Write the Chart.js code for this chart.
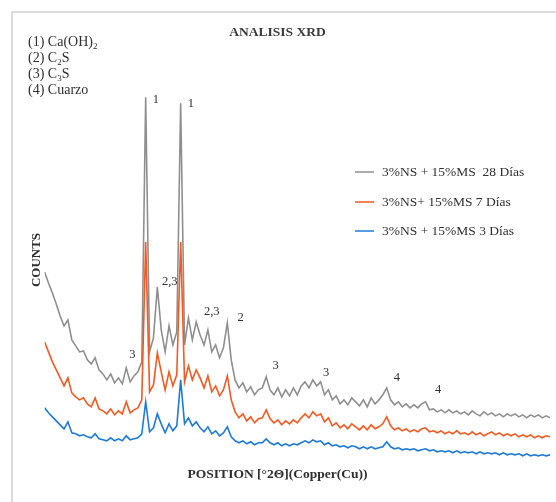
<html><head><meta charset="UTF-8"><title>Analisis XRD</title>
<style>
body { margin: 0; background: #fff; }
#wrap { position: relative; width: 556px; height: 502px; overflow: hidden; }
#frame { position: absolute; left: 11px; top: 11px; width: 700px; height: 700px; border-left: 2px solid #dcdcdc; border-top: 2px solid #dcdcdc; pointer-events: none; }
#key { position: absolute; left: 28px; top: 34px; font-family: "Liberation Serif", "Times New Roman", serif; font-size: 14px; line-height: 16px; color: #2f2f2f; }
#key sub { font-size: 9px; line-height: 0; vertical-align: -3px; }
</style>
<script src="https://cdn.jsdelivr.net/npm/chart.js"></script>
</head>
<body>
<div id="wrap">
  <canvas id="xrd" width="556" height="502"></canvas>
  <div id="frame"></div>
  <div id="key">(1) Ca(OH)<sub>2</sub><br>(2) C<sub>2</sub>S<br>(3) C<sub>3</sub>S<br>(4) Cuarzo</div>
</div>
<script>
// 2theta positions
const positions = [5,5.5,6,6.5,7,7.5,8,8.5,9,9.5,10,10.5,11,11.5,12,12.5,13,13.5,14,14.5,15,15.5,16,16.5,17,17.5,18,18.5,19,19.5,20,20.5,21,21.5,22,22.5,23,23.5,24,24.5,25,25.5,26,26.5,27,27.5,28,28.5,29,29.5,30,30.5,31,31.5,32,32.5,33,33.5,34,34.5,35,35.5,36,36.5,37,37.5,38,38.5,39,39.5,40,40.5,41,41.5,42,42.5,43,43.5,44,44.5,45,45.5,46,46.5,47,47.5,48,48.5,49,49.5,50,50.5,51,51.5,52,52.5,53,53.5,54,54.5,55,55.5,56,56.5,57,57.5,58,58.5,59,59.5,60,60.5,61,61.5,62,62.5,63,63.5,64,64.5,65,65.5,66,66.5,67,67.5,68,68.5,69,69.5,70];

const counts28 = [188,177,167,156,144,134,140,120,114,108,
  109,100,96,102,90,86,80,86,77,82,
  76,92,78,84,88,98,363,108,122,173,
  130,108,134,115,128,357,115,142,120,138,
  125,115,130,108,115,102,112,137,100,80,
  72,77,68,73,65,70,72,83,70,65,
  72,63,70,64,72,65,74,78,72,80,
  74,78,65,70,60,64,56,60,55,62,
  58,54,60,53,62,56,60,65,72,60,
  55,58,53,56,52,55,52,56,58,50,
  51,48,50,47,50,47,49,46,48,45,
  49,46,44,48,45,47,44,46,43,46,
  44,46,43,45,42,45,43,45,42,44,
  42];

const counts7 = [118,108,98,90,82,74,82,67,63,60,
  62,56,53,62,51,49,46,51,45,49,
  46,58,47,50,52,60,218,68,75,107,
  88,70,88,74,85,218,78,94,80,90,
  82,72,84,68,74,64,70,84,60,48,
  42,46,39,43,37,41,42,50,41,37,
  40,35,39,36,40,37,42,46,42,48,
  44,46,38,42,34,37,32,35,31,36,
  33,30,34,30,35,31,33,36,43,34,
  30,32,29,31,28,30,28,31,32,28,
  29,27,29,26,28,26,29,26,27,25,
  28,25,27,24,26,28,25,27,24,26,
  24,26,23,25,23,25,22,24,22,24,
  23];

const counts3 = [52,47,43,39,35,31,38,27,26,24,
  25,23,22,26,21,20,19,22,19,21,
  19,24,20,21,22,26,58,28,32,46,
  36,27,36,29,34,80,36,42,34,38,
  32,28,33,26,29,24,27,33,23,19,
  17,19,16,18,15,17,17,21,17,15,
  17,14,16,14,16,15,17,19,17,20,
  18,19,15,17,14,15,13,14,12,14,
  13,11,13,11,13,11,12,13,18,13,
  11,12,10,11,10,11,9,10,11,9,
  10,8,9,8,9,7,9,7,8,7,
  8,6,8,6,7,6,7,5,7,5,
  6,5,6,4,6,4,5,4,5,4,
  5];

const seriesNames = ['3%NS + 15%MS  28 Días', '3%NS+ 15%MS 7 Días', '3%NS + 15%MS 3 Días'];

// peak labels (text, 2theta, counts)
const peakText = ['1', '1', '2,3', '2,3', '2', '3', '3', '3', '4', '4'];
const peakPos = [19.3, 23.8, 21.1, 26.5, 30.2, 16.3, 34.7, 41.2, 50.3, 55.6];
const peakCounts = [360, 356, 178, 148, 142, 105, 94, 87, 82, 70];

const serif = '"Liberation Serif", "Times New Roman", serif';

function toPoints(vals) {
    return positions.map((p, i) => ({ x: p, y: vals[i] }));
}

const peakLabels = {
    id: 'peakLabels',
    afterDatasetsDraw(chart) {
        const ctx = chart.ctx;
        const xs = chart.scales.x, ys = chart.scales.y;
        ctx.save();
        ctx.font = '12.5px ' + serif;
        ctx.fillStyle = '#2f2f2f';
        ctx.textAlign = 'center';
        ctx.textBaseline = 'middle';
        peakText.forEach((t, i) => {
            ctx.fillText(t, xs.getPixelForValue(peakPos[i]), ys.getPixelForValue(peakCounts[i]));
        });
        ctx.restore();
    }
};

const sideLegend = {
    id: 'sideLegend',
    afterDraw(chart) {
        const ctx = chart.ctx;
        const x0 = 355, rows = [172, 202, 231];
        ctx.save();
        ctx.font = '13.5px ' + serif;
        ctx.textBaseline = 'middle';
        chart.data.datasets.forEach((ds, i) => {
            ctx.strokeStyle = ds.borderColor;
            ctx.lineWidth = 1.5;
            ctx.beginPath();
            ctx.moveTo(x0, rows[i]);
            ctx.lineTo(x0 + 19, rows[i]);
            ctx.stroke();
            ctx.fillStyle = '#2f2f2f';
            ctx.fillText(ds.label, x0 + 27, rows[i]);
        });
        ctx.restore();
    }
};

const chart = new Chart(document.getElementById('xrd'), {
    type: 'line',
    data: {
        datasets: [
            { label: seriesNames[0], data: toPoints(counts28), borderColor: '#8f8f8f', order: 3 },
            { label: seriesNames[1], data: toPoints(counts7), borderColor: '#f15a22', order: 2 },
            { label: seriesNames[2], data: toPoints(counts3), borderColor: '#1f7ad6', order: 1 }
        ]
    },
    options: {
        responsive: false,
        animation: false,
        layout: { padding: { left: 5, right: 6, top: 20, bottom: 19 } },
        elements: {
            point: { radius: 0 },
            line: { borderWidth: 1.6, tension: 0 }
        },
        scales: {
            x: { type: 'linear', min: 5, max: 70, display: false },
            y: {
                min: 0, max: 400,
                grid: { display: false, drawTicks: false },
                border: { display: false },
                ticks: { display: false },
                title: {
                    display: true, text: 'COUNTS', color: '#2f2f2f',
                    font: { family: serif, size: 13, weight: 'bold' },
                    padding: { top: 24, bottom: 0 }
                }
            }
        },
        plugins: {
            legend: { display: false },
            tooltip: { enabled: false },
            title: {
                display: true, text: 'ANALISIS XRD', color: '#3a3a3a',
                font: { family: serif, size: 13.5, weight: 'bold' },
                padding: { top: 4, bottom: 20 }
            },
            subtitle: {
                display: true, position: 'bottom', text: 'POSITION [°2Θ](Copper(Cu))', color: '#2f2f2f',
                font: { family: serif, size: 13.5, weight: 'bold' },
                padding: { top: 7, bottom: 0 }
            }
        }
    },
    plugins: [peakLabels, sideLegend]
});
</script>
</body></html>
